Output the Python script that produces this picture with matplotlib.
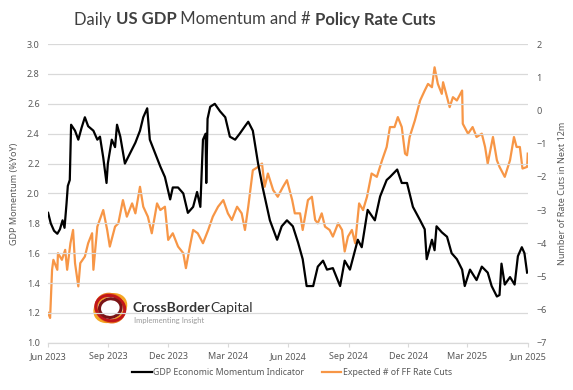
import matplotlib.pyplot as plt
import matplotlib.dates as mdates
from matplotlib.patches import Ellipse
import pandas as pd

# GDP momentum (left axis, %YoY)
gdp_dates = ["2023-06-01", "2023-06-05", "2023-06-10", "2023-06-15", "2023-06-19", "2023-06-23",
             "2023-06-26", "2023-06-29", "2023-07-01", "2023-07-04", "2023-07-06", "2023-07-12",
             "2023-07-17", "2023-07-22", "2023-07-27", "2023-08-01", "2023-08-09", "2023-08-15",
             "2023-08-19", "2023-08-24", "2023-08-29", "2023-08-31", "2023-09-06", "2023-09-11",
             "2023-09-14", "2023-09-19", "2023-09-26", "2023-10-04", "2023-10-12", "2023-10-19",
             "2023-10-24", "2023-10-30", "2023-11-03", "2023-11-11", "2023-11-19", "2023-11-26",
             "2023-12-04", "2023-12-08", "2023-12-16", "2023-12-24", "2023-12-31", "2024-01-08",
             "2024-01-14", "2024-01-19", "2024-01-23", "2024-01-27", "2024-01-28", "2024-01-30",
             "2024-02-03", "2024-02-10", "2024-02-18", "2024-02-26", "2024-03-04", "2024-03-12",
             "2024-03-19", "2024-03-27", "2024-04-01", "2024-04-08", "2024-04-16", "2024-04-23",
             "2024-05-04", "2024-05-15", "2024-05-22", "2024-05-30", "2024-06-08", "2024-06-16",
             "2024-06-23", "2024-06-29", "2024-07-09", "2024-07-16", "2024-07-24", "2024-07-30",
             "2024-08-08", "2024-08-19", "2024-08-26", "2024-09-03", "2024-09-15", "2024-09-21",
             "2024-09-30", "2024-10-11", "2024-10-19", "2024-10-29", "2024-11-03", "2024-11-14",
             "2024-11-21", "2024-11-29", "2024-12-08", "2024-12-19", "2024-12-26", "2024-12-29",
             "2025-01-06", "2025-01-10", "2025-01-13", "2025-01-21", "2025-01-29", "2025-02-05",
             "2025-02-13", "2025-02-21", "2025-02-25", "2025-03-05", "2025-03-15", "2025-03-23",
             "2025-04-01", "2025-04-07", "2025-04-15", "2025-04-19", "2025-04-22", "2025-04-27",
             "2025-05-05", "2025-05-12", "2025-05-17", "2025-05-23", "2025-05-27", "2025-05-31"]
gdp_values = [1.87, 1.80, 1.75, 1.73, 1.76, 1.82,
              1.77, 1.93, 2.05, 2.09, 2.46, 2.42,
              2.36, 2.44, 2.51, 2.45, 2.42, 2.36,
              2.38, 2.24, 2.07, 2.20, 2.36, 2.31,
              2.46, 2.38, 2.20, 2.27, 2.34, 2.42,
              2.51, 2.57, 2.36, 2.27, 2.18, 2.11,
              1.96, 2.04, 2.04, 2.00, 1.87, 1.91,
              2.01, 1.91, 2.36, 2.40, 2.07, 2.50,
              2.58, 2.60, 2.55, 2.51, 2.38, 2.36,
              2.40, 2.45, 2.48, 2.42, 2.20, 2.04,
              1.82, 1.69, 1.78, 1.82, 1.78, 1.67,
              1.56, 1.38, 1.38, 1.51, 1.55, 1.49,
              1.50, 1.38, 1.55, 1.49, 1.69, 1.64,
              1.89, 1.82, 1.98, 2.09, 2.11, 2.16,
              2.07, 2.07, 1.91, 1.82, 1.76, 1.56,
              1.69, 1.62, 1.78, 1.74, 1.71, 1.60,
              1.56, 1.49, 1.38, 1.49, 1.42, 1.51,
              1.47, 1.38, 1.31, 1.32, 1.53, 1.39,
              1.44, 1.39, 1.58, 1.64, 1.60, 1.47]

# Expected number of FF rate cuts (right axis)
cuts_dates = ["2023-06-01", "2023-06-04", "2023-06-07", "2023-06-09", "2023-06-15", "2023-06-16",
              "2023-06-22", "2023-06-27", "2023-06-30", "2023-07-05", "2023-07-09", "2023-07-12",
              "2023-07-17", "2023-07-20", "2023-07-27", "2023-08-01", "2023-08-07", "2023-08-09",
              "2023-08-15", "2023-08-24", "2023-08-30", "2023-09-03", "2023-09-11", "2023-09-16",
              "2023-09-23", "2023-09-29", "2023-10-07", "2023-10-12", "2023-10-19", "2023-10-24",
              "2023-10-31", "2023-11-06", "2023-11-14", "2023-11-19", "2023-11-26", "2023-12-01",
              "2023-12-08", "2023-12-16", "2023-12-24", "2023-12-28", "2024-01-03", "2024-01-08",
              "2024-01-15", "2024-01-23", "2024-01-31", "2024-02-07", "2024-02-15", "2024-02-23",
              "2024-03-01", "2024-03-07", "2024-03-15", "2024-03-22", "2024-03-27", "2024-04-01",
              "2024-04-08", "2024-04-16", "2024-04-22", "2024-04-26", "2024-05-01", "2024-05-09",
              "2024-05-16", "2024-05-24", "2024-05-30", "2024-06-07", "2024-06-11", "2024-06-19",
              "2024-06-23", "2024-07-01", "2024-07-07", "2024-07-12", "2024-07-16", "2024-07-22",
              "2024-07-27", "2024-08-03", "2024-08-08", "2024-08-16", "2024-08-22", "2024-08-26",
              "2024-08-31", "2024-09-06", "2024-09-11", "2024-09-17", "2024-09-23", "2024-09-29",
              "2024-10-06", "2024-10-14", "2024-10-22", "2024-10-29", "2024-11-03", "2024-11-10",
              "2024-11-15", "2024-11-21", "2024-11-26", "2024-11-29", "2024-12-03", "2024-12-11",
              "2024-12-19", "2024-12-26", "2024-12-31", "2025-01-06", "2025-01-10", "2025-01-15",
              "2025-01-21", "2025-01-23", "2025-01-29", "2025-02-02", "2025-02-07", "2025-02-13",
              "2025-02-21", "2025-02-22", "2025-03-02", "2025-03-09", "2025-03-15", "2025-03-23",
              "2025-03-28", "2025-04-01", "2025-04-09", "2025-04-15", "2025-04-19", "2025-04-27",
              "2025-05-05", "2025-05-11", "2025-05-15", "2025-05-20", "2025-05-24", "2025-05-31",
              "2025-06-01"]
cuts_values = [-6.1, -6.25, -4.8, -4.5, -4.8, -4.3,
               -4.5, -4.2, -4.8, -4.0, -3.6, -4.6,
               -5.3, -4.6, -4.4, -4.0, -3.7, -4.8,
               -3.5, -3.0, -3.6, -4.1, -3.5, -3.4,
               -2.7, -3.2, -2.8, -3.1, -2.3, -2.9,
               -3.2, -3.7, -2.8, -3.0, -2.9, -3.9,
               -3.7, -4.1, -4.3, -4.75, -4.1, -3.6,
               -3.7, -4.0, -3.6, -3.2, -2.9, -2.7,
               -3.1, -3.3, -2.9, -3.1, -3.6, -2.9,
               -1.8, -1.7, -1.6, -2.3, -1.9, -2.4,
               -2.6, -2.3, -2.1, -2.7, -3.1, -3.1,
               -3.6, -2.7, -2.6, -3.3, -3.4, -3.1,
               -3.5, -3.6, -3.8, -3.4, -3.6, -4.25,
               -3.8, -3.6, -4.0, -2.8, -3.0, -2.6,
               -1.9, -2.0, -1.5, -1.1, -0.5, -0.5,
               -0.2, -0.5, -1.3, -1.35, -0.8, -0.3,
               0.3, 0.6, 0.8, 0.7, 1.3, 0.8,
               0.5, 0.85, 0.4, 0.1, 0.4, 0.3,
               0.6, -0.4, -0.7, -0.5, -0.8, -0.7,
               -1.1, -1.6, -0.8, -1.5, -1.7, -2.0,
               -1.5, -0.8, -1.1, -1.1, -1.75, -1.7,
               -1.3]

left_ticks = [1.0, 1.2, 1.4, 1.6, 1.8, 2.0, 2.2, 2.4, 2.6, 2.8, 3.0]
right_ticks = [-7, -6, -5, -4, -3, -2, -1, 0, 1, 2]
x_ticks = ["2023-06-01", "2023-09-01", "2023-12-01", "2024-03-01", "2024-06-01",
           "2024-09-01", "2024-12-01", "2025-03-01", "2025-06-01"]

grey = "#595959"
orange = "#F79646"
plt.rcParams["font.family"] = ["Noto Sans", "DejaVu Sans"]

fig = plt.figure(figsize=(5.73, 3.9), dpi=100)
ax = fig.add_axes([0.084, 0.121, 0.837, 0.766])
ax2 = ax.twinx()

l1, = ax.plot(pd.to_datetime(gdp_dates), gdp_values, color="black", lw=1.6,
              label="GDP Economic Momentum Indicator", zorder=3)
l2, = ax2.plot(pd.to_datetime(cuts_dates), cuts_values, color=orange, lw=1.6,
               label="Expected # of FF Rate Cuts")
ax.set_zorder(ax2.get_zorder() + 1)
ax.patch.set_visible(False)

ax.set_ylim(1.0, 3.0)
ax.set_yticks(left_ticks)
ax.set_yticklabels([f"{t:.1f}" for t in left_ticks])
ax2.set_ylim(-7, 2)
ax2.set_yticks(right_ticks)
ax.set_xlim(pd.Timestamp("2023-06-01"), pd.Timestamp("2025-06-01"))
ax.set_xticks(pd.to_datetime(x_ticks))
ax.xaxis.set_major_formatter(mdates.DateFormatter("%b %Y"))

ax.grid(axis="y", color="#d9d9d9", lw=0.9)
for a in (ax, ax2):
    for s in ["top", "left", "right"]:
        a.spines[s].set_visible(False)
    a.spines["bottom"].set_color("#d9d9d9")
    a.tick_params(axis="y", length=0, labelsize=6.5, labelcolor=grey, pad=6)
ax.tick_params(axis="x", length=3, color="#d9d9d9", labelsize=6.5, labelcolor=grey)

ax.set_ylabel("GDP Momentum (%YoY)", fontsize=6.5, color=grey, labelpad=6)
ax2.set_ylabel("Number of Rate Cuts in Next 12m", fontsize=6.5, color=grey, labelpad=8)

fig.legend(handles=[l1, l2], loc="center", bbox_to_anchor=(0.51, 0.045), ncol=2,
           frameon=False, fontsize=6.3, labelcolor=grey, handlelength=2.2,
           handletextpad=0.2, columnspacing=2.0)

# title with mixed weights
r = fig.canvas.get_renderer()


def put_pieces(pieces, y, size, color, x0=None, center=0.5):
    texts = []
    x = 0
    for s, w in pieces:
        t = fig.text(x, y, s, fontsize=size, weight=w, color=color, va="center",
                     family=["Lato", "DejaVu Sans"])
        texts.append(t)
        x += t.get_window_extent(r).width / fig.bbox.width
    start = center - x / 2 if x0 is None else x0
    for t in texts:
        t.set_x(t.get_position()[0] + start)


put_pieces([("Daily ", "normal"), ("US GDP", "bold"), (" Momentum and # ", "normal"),
            ("Policy Rate Cuts", "bold")], 0.95, 12, "#404040", center=0.445)

# logo
lax = fig.add_axes([0.16, 0.155, 0.065, 0.11])
lax.set_aspect("equal")
lax.set_xlim(-1.2, 1.2)
lax.set_ylim(-1.2, 1.2)
lax.axis("off")
for w, h, ang, c in [(2.1, 1.6, 30, "#F5A623"), (1.9, 1.7, -40, "#E8761C"),
                     (1.6, 1.9, 70, "#C0161B"), (1.4, 1.2, 10, "#7A1416")]:
    lax.add_patch(Ellipse((0, 0), w, h, angle=ang, fill=False, lw=2.2, ec=c))
put_pieces([("CrossBorder", "bold"), ("Capital", "normal")], 0.21, 10, "#333333", x0=0.232)
fig.text(0.233, 0.178, "Implementing Insight", fontsize=5.5, color="#9a9a9a", va="center",
         family=["Lato", "DejaVu Sans"])

fig.savefig("out.png", dpi=100)
